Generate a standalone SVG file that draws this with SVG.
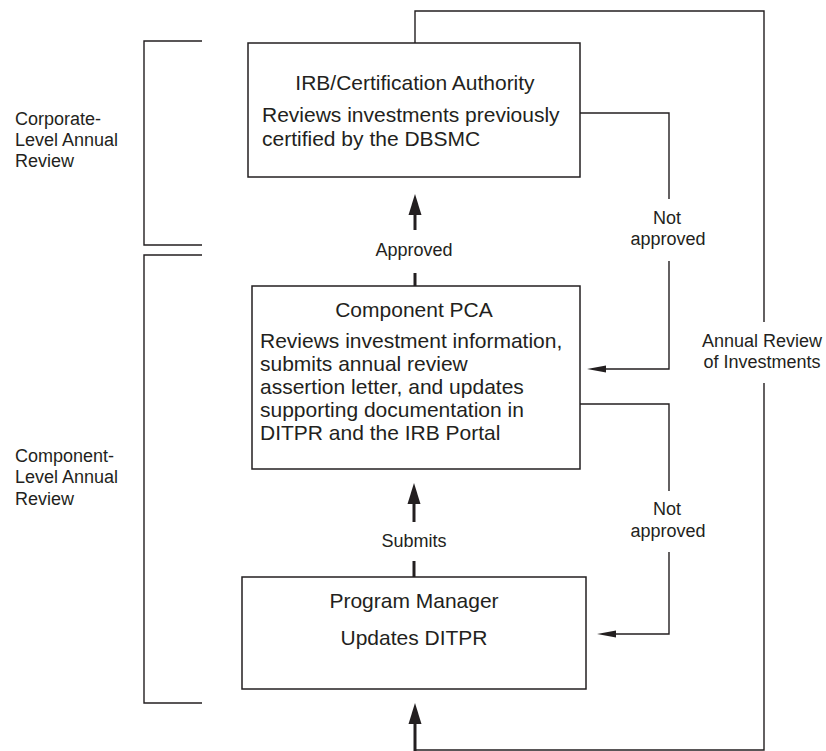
<svg xmlns="http://www.w3.org/2000/svg" width="826" height="751" viewBox="0 0 826 751">
<defs>
<style>
text{font-family:"Liberation Sans",Arial,sans-serif;fill:#231f20}
.box{fill:#fff;stroke:#231f20;stroke-width:1.5}
.ln{fill:none;stroke:#231f20;stroke-width:1.4}
.thick{fill:none;stroke:#231f20;stroke-width:3}
.head{fill:#231f20}
.t21{font-size:21px}
.t18{font-size:18px}
.c{text-anchor:middle}
</style>
</defs>
<rect width="826" height="751" fill="#fff"/>
<g id="brackets">
<path class="ln" d="M202,41 H144 V245 H202"/>
<path class="ln" d="M202,255 H144 V703 H202"/>
</g>
<g id="side-labels" class="t18">
<text x="15" y="125">Corporate-</text>
<text x="15" y="146">Level Annual</text>
<text x="15" y="167">Review</text>
<text x="15" y="462">Component-</text>
<text x="15" y="483">Level Annual</text>
<text x="15" y="505">Review</text>
</g>
<g id="connectors">
<path class="ln" d="M415,43 V11 H764 V322"/>
<path class="ln" d="M764,383 V750 H415"/>
<path class="thick" d="M415,751 V720"/>
<polygon class="head" points="415,703 408.5,724 421.5,724"/>
<text class="t18 c" x="762" y="347">Annual Review</text>
<text class="t18 c" x="762" y="368">of Investments</text>
<path class="thick" d="M415,230 V212"/>
<polygon class="head" points="415,194 408.5,215 421.5,215"/>
<path class="thick" d="M415,273 V286"/>
<text class="t18 c" x="414" y="256">Approved</text>
<path class="thick" d="M414,522 V502"/>
<polygon class="head" points="414,483 407.5,504 420.5,504"/>
<path class="thick" d="M414,561 V577"/>
<text class="t18 c" x="414" y="547">Submits</text>
<path class="ln" d="M580,113 H669 V199"/>
<path class="ln" d="M669,261 V369 H602"/>
<polygon class="head" points="587,369 606,365.5 606,372.5"/>
<text class="t18 c" x="667" y="224">Not</text>
<text class="t18 c" x="668" y="245">approved</text>
<path class="ln" d="M580,404 H669 V491"/>
<path class="ln" d="M669,552 V634 H612"/>
<polygon class="head" points="597,634 616,630.5 616,637.5"/>
<text class="t18 c" x="667" y="515">Not</text>
<text class="t18 c" x="668" y="537">approved</text>
</g>
<g id="irb">
<rect class="box" x="248" y="43" width="332" height="134"/>
<text class="t21 c" x="415" y="90">IRB/Certification Authority</text>
<text class="t21" x="262" y="122">Reviews investments previously</text>
<text class="t21" x="262" y="146">certified by the DBSMC</text>
</g>
<g id="pca">
<rect class="box" x="252" y="286" width="328" height="183"/>
<text class="t21 c" x="414" y="317">Component PCA</text>
<text class="t21" x="260" y="348">Reviews investment information,</text>
<text class="t21" x="260" y="371">submits annual review</text>
<text class="t21" x="260" y="394">assertion letter, and updates</text>
<text class="t21" x="260" y="417">supporting documentation in</text>
<text class="t21" x="260" y="440">DITPR and the IRB Portal</text>
</g>
<g id="pm">
<rect class="box" x="242" y="577" width="344" height="112"/>
<text class="t21 c" x="414" y="608">Program Manager</text>
<text class="t21 c" x="414" y="645">Updates DITPR</text>
</g>
</svg>
